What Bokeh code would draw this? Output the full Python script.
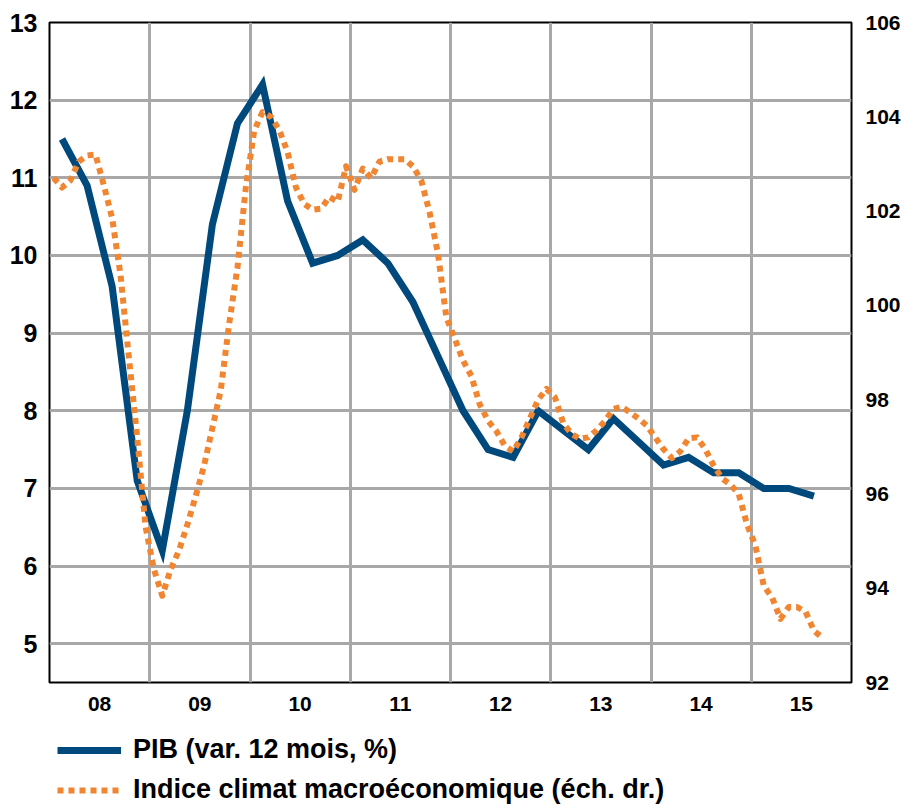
from bokeh.plotting import figure
from bokeh.models import Range1d, LinearAxis, FixedTicker, Legend, LegendItem
from bokeh.layouts import column
from bokeh.embed import file_html
from bokeh.resources import INLINE

# ---- data ----
year_labels = ["08", "09", "10", "11", "12", "13", "14", "15"]
first_year = 2008

# PIB (var. 12 mois, %) - quarterly, 2008Q1 .. 2015Q3
pib = [11.5, 10.9, 9.6, 7.1,
       6.2, 8.0, 10.4, 11.7,
       12.2, 10.7, 9.9, 10.0,
       10.2, 9.9, 9.4, 8.7,
       8.0, 7.5, 7.4, 8.0,
       7.75, 7.5, 7.9, 7.6,
       7.3, 7.4, 7.2, 7.2,
       7.0, 7.0, 6.9]

# Indice climat macroéconomique (éch. dr.) - monthly, Jan 2008 .. Sep 2015
climat = [102.7, 102.5, 102.65, 103.05, 103.18, 103.2, 102.55, 101.85, 100.65, 98.9, 97.2, 95.3,
          94.4, 93.84, 94.4, 94.8, 95.35, 95.95, 96.6, 97.4, 98.2, 99.6, 100.8, 102.5,
          103.7, 104.1, 104.0, 103.72, 103.25, 102.5, 102.15, 102.03, 102.05, 102.3, 102.2, 102.95,
          102.45, 102.9, 102.7, 103.05, 103.1, 103.1, 103.1, 102.95, 102.65, 101.97, 101.1, 99.75,
          99.3, 98.83, 98.5, 97.9, 97.55, 97.33, 97.02, 96.9, 97.2, 97.6, 98.0, 98.23,
          98.05, 97.5, 97.27, 97.17, 97.2, 97.35, 97.55, 97.8, 97.85, 97.73, 97.6, 97.45,
          97.2, 96.95, 96.76, 96.9, 97.18, 97.2, 96.95, 96.6, 96.33, 96.2, 96.0, 95.35,
          94.9, 94.05, 93.8, 93.35, 93.6, 93.6, 93.5, 93.1, 92.95]

left_ticks = [5, 6, 7, 8, 9, 10, 11, 12, 13]
right_ticks = [92, 94, 96, 98, 100, 102, 104, 106]
series_labels = ["PIB (var. 12 mois, %)", "Indice climat macroéconomique (éch. dr.)"]

# positions (decimal years, mid-period)
x_pib = [first_year + (i + 0.5) / 4 for i in range(len(pib))]
x_clim = [first_year + (i + 0.5) / 12 for i in range(len(climat))]

BLUE = "#00497D"
ORANGE = "#F08632"
FONT = "Liberation Sans"

p = figure(frame_width=802, frame_height=660,
           x_range=Range1d(2008, 2016), y_range=Range1d(4.5, 13),
           output_backend="svg", toolbar_location=None,
           min_border_left=49, min_border_top=22, min_border_bottom=48, min_border_right=50)
p.extra_y_ranges = {"right": Range1d(92, 106)}

p.outline_line_color = "black"
p.outline_line_width = 2


def style_axis(ax, size, standoff):
    ax.axis_line_color = None
    ax.major_tick_line_color = None
    ax.minor_tick_line_color = None
    ax.major_tick_out = 0
    ax.major_tick_in = 0
    ax.minor_tick_out = 0
    ax.major_label_text_font = FONT
    ax.major_label_text_font_style = "bold"
    ax.major_label_text_font_size = size
    ax.major_label_text_color = "black"
    ax.major_label_standoff = standoff


# left axis
ya = p.yaxis[0]
ya.ticker = FixedTicker(ticks=left_ticks)
style_axis(ya, "25px", 12)

# x axis
xa = p.xaxis[0]
mids = [first_year + i + 0.5 for i in range(len(year_labels))]
xa.ticker = FixedTicker(ticks=mids)
xa.major_label_overrides = {m: lab for m, lab in zip(mids, year_labels)}
style_axis(xa, "21px", 14)

# right axis
ra = LinearAxis(y_range_name="right", ticker=FixedTicker(ticks=right_ticks))
style_axis(ra, "21px", 14)
p.add_layout(ra, "right")

# grids
p.xgrid.ticker = FixedTicker(ticks=list(range(2009, 2016)))
p.ygrid.ticker = FixedTicker(ticks=left_ticks[:-1])
for g in (p.xgrid[0], p.ygrid[0]):
    g.grid_line_color = "#a8a8a8"
    g.grid_line_width = 3

blue_style = dict(line_color=BLUE, line_width=7)
orange_style = dict(line_color=ORANGE, line_width=6, line_dash="6 5")

r1 = p.line(x_pib, pib, line_join="miter", **blue_style)
r2 = p.line(x_clim, climat, y_range_name="right", line_join="round", **orange_style)

# legend strip below the chart (legend keys only, no data drawn)
nan = float("nan")
lg = figure(frame_width=802, frame_height=78, output_backend="svg", toolbar_location=None,
            x_range=Range1d(0, 1), y_range=Range1d(0, 1),
            min_border_left=49, min_border_right=50, min_border_top=0, min_border_bottom=0,
            x_axis_type=None, y_axis_type=None)
lg.outline_line_color = None
lg.xgrid.visible = False
lg.ygrid.visible = False
k1 = lg.line([nan], [nan], **blue_style)
k2 = lg.line([nan], [nan], **orange_style)
legend = Legend(items=[LegendItem(label=series_labels[0], renderers=[k1]),
                       LegendItem(label=series_labels[1], renderers=[k2])],
                location=(8, 3), orientation="vertical",
                background_fill_alpha=0, border_line_color=None,
                label_text_font=FONT, label_text_font_style="bold",
                label_text_font_size="27px", label_text_color="black",
                glyph_width=64, glyph_height=30, label_height=30, spacing=9,
                padding=0, margin=0, label_standoff=12)
lg.add_layout(legend, "center")

layout = column(p, lg, spacing=0)
open("out.html", "w").write(file_html(layout, INLINE))
